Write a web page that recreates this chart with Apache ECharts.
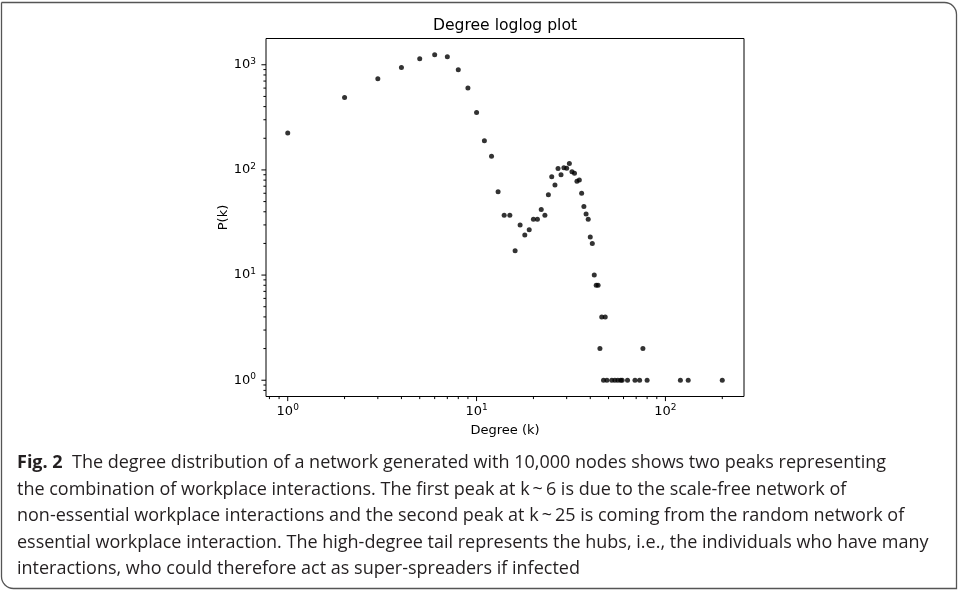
<!DOCTYPE html>
<html><head><meta charset="utf-8">
<script src="https://cdn.jsdelivr.net/npm/echarts@6/dist/echarts.min.js"></script>
<style>html,body{margin:0;padding:0;background:#fff}#c{width:959px;height:590px}</style>
</head><body><div id="c"></div>
<script>
// ---- data ----
const degrees = [1,2,3,4,5,6,7,8,9,10,11,12,13,14,15,16,17,18,19,20,21,22,23,24,25,26,27,28,29,30,31,32,33,34,35,36,37,38,39,40,41,42,43,44,45,46,47,48,49,52,54,56,58,59,63,69,73,76,80,120,132,200];
const counts  = [225,489,736,942,1140,1245,1192,896,600,351,189,135,62,37,37,17,30,24,27,34,34,42,37,58,86,72,103,90,105,104,115,96,93,78,80,60,45,38,34,23,20,10,8,8,2,4,1,4,1,1,1,1,1,1,1,1,1,2,1,1,1,1];
const xMajorTicks = [1, 10, 100];
const yMajorTicks = [1, 10, 100, 1000];
const titleText = 'Degree loglog plot';
const xAxisName = 'Degree (k)';
const yAxisName = 'P(k)';
const captionLead = 'Fig. 2';
const captionLines = [
  '  The degree distribution of a network generated with 10,000 nodes shows two peaks representing',
  'the combination of workplace interactions. The first peak at k\u2009~\u20096 is due to the scale-free network of',
  'non-essential workplace interactions and the second peak at k\u2009~\u200925 is coming from the random network of',
  'essential workplace interaction. The high-degree tail represents the hubs, i.e., the individuals who have many',
  'interactions, who could therefore act as super-spreaders if infected'
];

// ---- axis limits as matplotlib autoscale: 5% margin in log space ----
function logLimits(arr) {
  const lo = Math.log10(Math.min(...arr)), hi = Math.log10(Math.max(...arr));
  const m = 0.05 * (hi - lo);
  return [Math.pow(10, lo - m), Math.pow(10, hi + m)];
}
const [xMin, xMax] = logLimits(degrees);
const [yMin, yMax] = logLimits(counts);

function logTicks(min, max, majors) {
  const out = [];
  for (let e = Math.floor(Math.log10(min)); e <= Math.ceil(Math.log10(max)); e++) {
    for (let m = 1; m < 10; m++) {
      const v = m * Math.pow(10, e);
      if (v >= min && v <= max) out.push([v, majors.some(t => Math.abs(t - v) < 1e-9 * t) ? 1 : 0]);
    }
  }
  return out;
}
const tickData = [];
logTicks(xMin, xMax, xMajorTicks).forEach(([v, maj]) => tickData.push([v, yMin, 0, maj]));
logTicks(yMin, yMax, yMajorTicks).forEach(([v, maj]) => tickData.push([xMin, v, 1, maj]));

function powLabel(v) {
  const e = Math.log10(v), r = Math.round(e);
  if (Math.abs(e - r) > 1e-6) return '';
  return '{b|10}{s|' + r + '}';
}
const labelRich = {
  b: { fontFamily: 'DejaVu Sans', fontSize: 13, lineHeight: 16, color: '#000' },
  s: { fontFamily: 'DejaVu Sans', fontSize: 9, lineHeight: 9, verticalAlign: 'top', color: '#000' }
};

// caption font size fitted to the reference line width
const capFont = '"Open Sans", "Noto Sans", sans-serif';
const mctx = document.createElement('canvas').getContext('2d');
mctx.font = '100px ' + capFont;
const capSize = Math.min(18, 100 * 924 / mctx.measureText(captionLines[3]).width);

const captionText = '{b|' + captionLead + '}{r|' + captionLines[0] + '}\n' +
  captionLines.slice(1).map(l => '{r|' + l + '}').join('\n');

const chart = echarts.init(document.getElementById('c'), null, { renderer: 'canvas' });
const GRID = { left: 266, top: 38.5, width: 478, height: 358 };

chart.setOption({
  animation: false,
  backgroundColor: '#fff',
  grid: Object.assign({ show: true, borderColor: '#000', borderWidth: 1, containLabel: false }, GRID),
  xAxis: {
    type: 'log', min: xMin, max: xMax, logBase: 10,
    name: xAxisName, nameLocation: 'middle', nameGap: 28,
    nameTextStyle: { fontFamily: 'DejaVu Sans', fontSize: 13, color: '#000', verticalAlign: 'top' },
    axisLine: { show: false }, axisTick: { show: false }, splitLine: { show: false },
    axisLabel: { formatter: powLabel, rich: labelRich, margin: 7, showMinLabel: false, showMaxLabel: false }
  },
  yAxis: {
    type: 'log', min: yMin, max: yMax, logBase: 10,
    name: yAxisName, nameLocation: 'middle', nameGap: 36, nameRotate: 90,
    nameTextStyle: { fontFamily: 'DejaVu Sans', fontSize: 13, color: '#000' },
    axisLine: { show: false }, axisTick: { show: false }, splitLine: { show: false },
    axisLabel: { formatter: powLabel, rich: labelRich, margin: 10, showMinLabel: false, showMaxLabel: false }
  },
  series: [
    {
      type: 'scatter', data: degrees.map((k, i) => [k, counts[i]]),
      symbol: 'circle', symbolSize: 5, itemStyle: { color: '#000' }, silent: true
    },
    {
      type: 'custom', clip: false, silent: true,
      data: tickData,
      encode: { x: 0, y: 1 },
      renderItem: function (params, api) {
        const p = api.coord([api.value(0), api.value(1)]);
        const len = api.value(3) ? 4.6 : 2.6;
        const isY = api.value(2) === 1;
        return {
          type: 'line',
          shape: isY ? { x1: p[0] - len, y1: p[1], x2: p[0], y2: p[1] } : { x1: p[0], y1: p[1], x2: p[0], y2: p[1] + len },
          style: { stroke: '#000', lineWidth: 1 }
        };
      }
    }
  ],
  graphic: [
    {
      type: 'rect', silent: true,
      shape: { x: 1.5, y: 2.5, width: 955, height: 586, r: [0, 12, 0, 12] },
      style: { fill: null, stroke: '#555', lineWidth: 1.3 }
    },
    {
      type: 'text', x: GRID.left + GRID.width / 2, y: 25.5,
      style: { text: titleText, align: 'center', verticalAlign: 'middle', fontFamily: 'DejaVu Sans', fontSize: 15.6, fill: '#000' }
    },
    {
      type: 'text', x: 17, y: 450,
      style: {
        text: captionText, align: 'left', verticalAlign: 'top',
        fontFamily: capFont, fontSize: capSize, lineHeight: 26.5, fill: '#231f20',
        rich: {
          b: { fontFamily: capFont, fontSize: capSize, fontWeight: 'bold', lineHeight: 26.5, fill: '#231f20' },
          r: { fontFamily: capFont, fontSize: capSize, lineHeight: 26.5, fill: '#231f20' }
        }
      }
    }
  ]
});
</script>
</body></html>
